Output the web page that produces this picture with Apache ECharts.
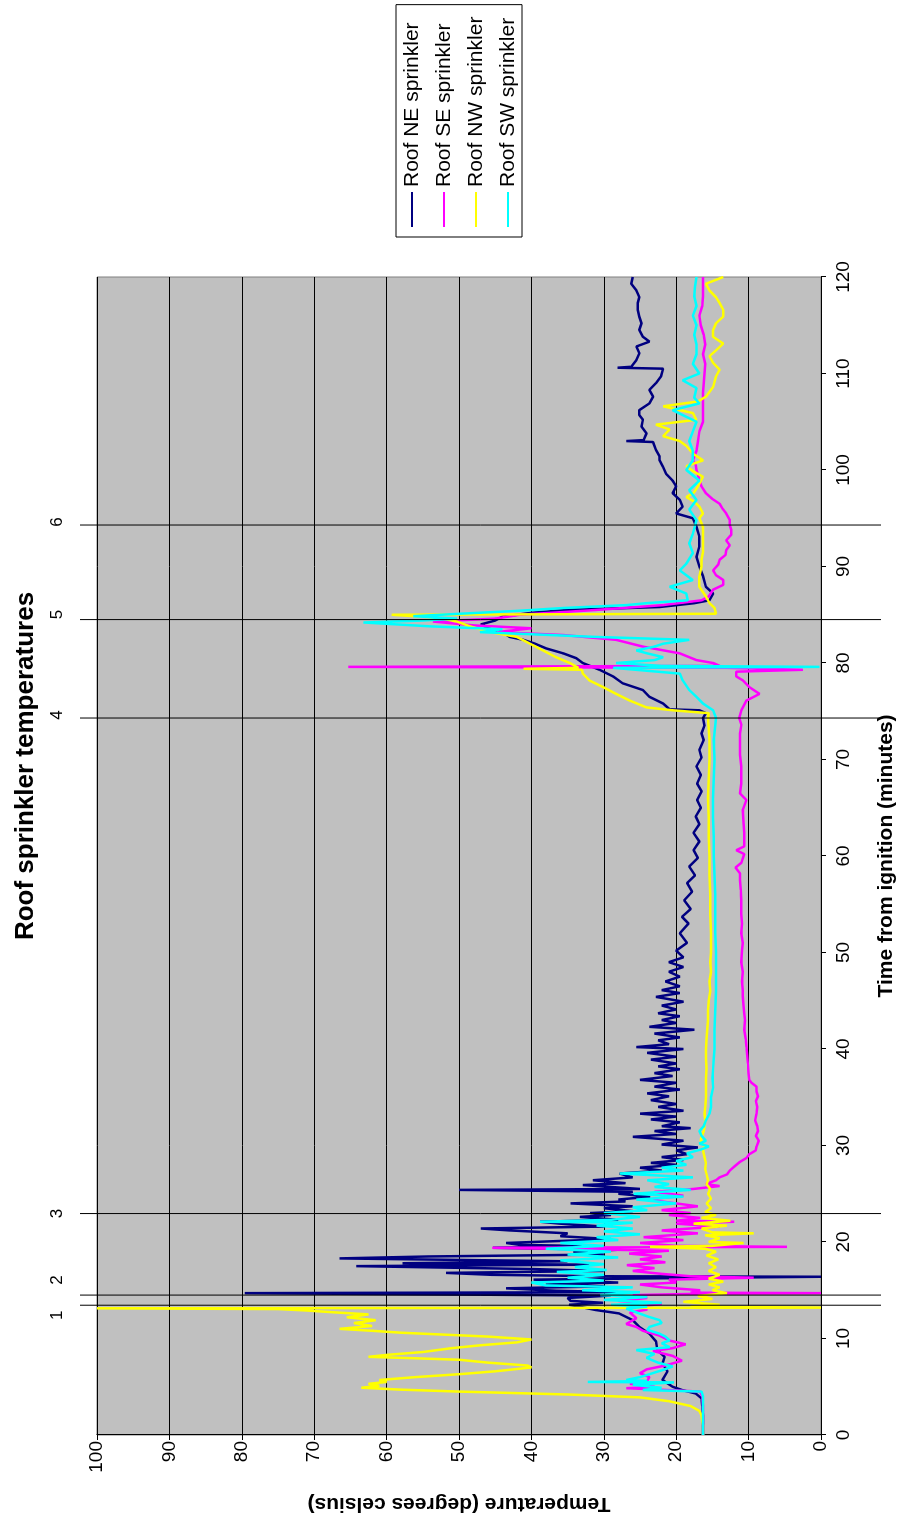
<!DOCTYPE html>
<html><head><meta charset="utf-8">
<script src="https://cdn.jsdelivr.net/npm/echarts@6/dist/echarts.min.js"></script>
<style>
html,body{margin:0;padding:0;width:902px;height:1526px;overflow:hidden;background:#fff;}
#chart{position:absolute;left:0;top:0;width:1526px;height:902px;transform-origin:0 0;transform:translate(0,1526px) rotate(-90deg);}
</style></head><body><div id="chart"></div>
<script>
const chartTitle = 'Roof sprinkler temperatures';
const xAxisName = 'Time from ignition (minutes)';
const yAxisName = 'Temperature (degrees celsius)';
const seriesNames = ['Roof NE sprinkler', 'Roof SE sprinkler', 'Roof NW sprinkler', 'Roof SW sprinkler'];
const timeRange = [0, 120, 10];
const tempRange = [0, 100, 10];
const eventTimes = [13.45, 14.5, 22.95, 74.3, 84.5, 94.3];
const eventLabels = ['1', '2', '3', '4', '5', '6'];

const roofNE = [[0,16.3],[1,16.3],[2,16.3],[3,16.4],[3.8,16.5],[4.3,17.3],[4.66,19.2],[5.0,20.5],[5.7,21.9],[6.6,21.2],[7.4,21.9],[8.1,21.6],[8.8,22.6],[9.7,22.8],[10.5,23.7],[11.2,25.1],[11.9,26.0],[12.6,27.9],[12.95,31.1],[13.3,33.4],[13.5,34.8],[13.7,30.1],[13.9,34.6],[14.2,35],[14.45,29],[14.7,79.6],[14.8,28],[14.95,36.5],[15.2,43.5],[15.4,30],[15.6,38],[15.8,28],[16.1,39.7],[16.3,15],[16.4,0],[16.45,30],[16.6,45.5],[16.8,51.8],[17.0,30],[17.2,40],[17.5,64.2],[17.65,32],[17.8,57.8],[18.0,35],[18.3,66.5],[18.5,54.3],[18.7,30],[19.0,34.2],[19.2,28],[19.4,45.3],[19.55,30],[19.7,41.6],[19.9,43.5],[20.1,43.4],[20.3,29],[20.6,36],[20.9,35],[21.2,43],[21.4,47],[21.6,30],[21.9,36],[22.1,38.8],[22.3,28],[22.6,33.3],[22.8,29],[23.0,31.9],[23.2,26],[23.5,30],[23.7,26],[24.0,34.6],[24.2,27],[24.4,28],[24.7,23.6],[25.0,28],[25.2,26],[25.4,50],[25.5,25],[25.9,32.9],[26.1,27],[26.4,31.5],[26.7,26],[27.1,27.8],[27.4,22],[27.7,25],[28.0,20],[28.2,23.5],[28.5,19],[28.8,22],[29.1,18.5],[29.5,20],[29.8,17],[30.1,22],[30.5,19],[30.9,26],[31.2,20],[31.5,23],[31.8,18],[32.0,22],[32.4,19.5],[32.7,23.5],[33.0,20],[33.3,25],[33.6,19],[34.0,22.5],[34.3,20],[34.7,23.5],[35.1,21],[35.4,24],[35.8,19.5],[36.1,23],[36.5,20],[36.8,25],[37.2,20.5],[37.5,23],[37.9,19.5],[38.2,22.5],[38.5,20],[38.9,23.5],[39.2,20],[39.6,24],[40.0,19],[40.2,25.5],[40.5,21],[40.9,22.5],[41.2,19.5],[41.6,23],[42.0,17.5],[42.3,23.7],[42.7,20],[43.0,22],[43.4,19.5],[43.7,22.5],[44.1,20],[44.5,22],[44.9,19],[45.4,22.8],[45.8,19.5],[46.1,22],[46.5,19.5],[47.0,21.5],[47.5,19.5],[48.0,21],[48.5,19],[49.0,21],[49.5,19],[50.2,20],[51,18.5],[52,19.5],[53,18.3],[53.7,19.2],[54.5,18],[55.4,18.9],[56.3,17.8],[57.2,18.5],[58,17.4],[58.9,18.2],[59.8,17],[60.6,17.6],[61.5,16.8],[62.4,17.6],[63.3,16.8],[64.1,17.3],[65,16.6],[65.8,17.1],[66.7,16.5],[67.5,17.1],[68.4,16.6],[69.3,17.2],[70.2,16.5],[71,16.8],[72,16.2],[72.7,16.5],[73.5,16.1],[74.3,16.3],[74.8,15.9],[75.1,16.8],[75.2,20.9],[75.8,21.8],[76.5,23.7],[77.2,24.6],[77.9,27.4],[78.6,28.7],[79.3,30.6],[80,32.9],[80.5,33.8],[81,35.6],[81.5,37.9],[82,39.5],[82.4,41.1],[82.7,43],[83.2,44],[83.6,46],[84,47],[84.4,45],[84.8,44],[85.2,40],[85.5,35],[85.8,22.3],[86.2,17.5],[86.5,15.4],[87.2,14.9],[87.9,15.9],[89,16.3],[90,16.8],[91,17.2],[92.1,16.8],[93.1,16.8],[94.1,17.2],[95,17.7],[95.5,20],[96.2,19.1],[96.9,19.5],[97.6,20.5],[98.3,20],[98.9,20.5],[99.6,21.4],[100.3,21.8],[101,22.3],[101.4,22.3],[102.1,22.8],[102.9,23.2],[103,26.9],[103.1,24.5],[103.8,24.1],[104.5,24.8],[105.2,24.6],[105.7,25.1],[106.2,25.1],[106.9,23.7],[107.6,23.2],[108.3,23.7],[109,22.8],[109.7,22.1],[110.5,21.8],[110.6,28.1],[110.7,26.2],[111.4,25.5],[112.1,25.1],[112.8,25.5],[113.3,23.7],[113.8,24.6],[114.5,25.1],[115.2,24.8],[115.9,25.1],[116.6,25.3],[117.3,25.3],[117.9,25.1],[118.6,25.5],[119.3,26.2],[120,26]];

const roofSE = [[0,16.3],[1,16.3],[2,16.3],[3,16.3],[4,16.4],[4.5,16.7],[4.7,22.3],[4.85,26.9],[5.0,23],[5.3,26.4],[5.6,24],[6.0,23.7],[6.4,25],[6.8,24.1],[7.2,21.5],[7.7,19.2],[8.2,20.5],[8.7,23.2],[9.0,20.5],[9.4,18.7],[9.8,21],[10.3,22.3],[10.8,24.6],[11.2,25.5],[11.5,26.9],[12.1,25.5],[12.7,26.4],[13.0,24],[13.3,25],[13.6,22],[13.9,28],[14.2,24],[14.5,26],[14.65,16],[14.7,0],[14.75,18],[15.0,16.7],[15.3,22],[15.6,25],[15.8,20],[16.1,21],[16.3,9.3],[16.45,18],[16.7,22],[17.0,26],[17.3,23],[17.6,26.8],[17.9,21.5],[18.2,25],[18.5,22],[18.8,26.5],[19.1,21],[19.4,45.4],[19.5,4.7],[19.6,20],[19.9,25],[20.2,19],[20.5,24.5],[20.9,17],[21.2,22],[21.6,14],[21.9,20],[22.1,12],[22.2,20],[22.5,16.7],[22.8,21],[23.0,18],[23.3,22],[23.7,17],[24.0,20],[24.4,24],[24.8,19],[25.2,23],[25.5,17.6],[25.8,14],[26.0,15.9],[26.4,14.5],[26.7,14],[27.0,13],[27.4,12.6],[27.8,12],[28.3,11.2],[28.7,10.3],[29.1,9.9],[29.5,9],[29.9,8.9],[30.5,8.6],[31.0,9.0],[31.5,8.7],[32.0,8.8],[32.6,9.1],[33.3,8.9],[34,8.8],[34.6,9.0],[35.1,8.7],[35.6,8.9],[36.1,8.9],[36.5,9.6],[36.8,9.9],[37.5,10.0],[38.5,10.1],[39.3,10.2],[40.2,10.3],[41,10.4],[42,10.6],[43,10.5],[43.7,10.6],[44.5,10.7],[45.5,10.8],[46.1,10.8],[47,10.9],[48,10.8],[49,11.0],[50.2,10.9],[51,10.8],[52,11],[53,10.9],[54,11],[55.4,11],[56.5,11.1],[57.5,11.2],[58.2,11.2],[58.8,11.8],[59.3,11],[60.2,10.6],[60.6,11.7],[61,10.6],[62.4,10.6],[63.5,10.7],[64.8,10.8],[65.8,10.3],[66.5,11.2],[67.5,11.0],[68.5,11.0],[69.3,11.0],[70.5,11.2],[71.5,11.2],[72.7,11.2],[73.6,11.0],[74.3,11.3],[75.1,11.0],[76.1,10.3],[76.8,8.5],[77.5,9.9],[78.2,10.8],[78.6,11.7],[79.1,11.7],[79.3,2.5],[79.5,13],[79.6,65.3],[79.7,14],[80.0,14.9],[80.3,17.2],[81.0,19.5],[81.7,24.6],[82.4,28.3],[82.9,35.6],[83.2,44.8],[83.6,40],[83.9,48],[84.3,53.6],[84.6,45],[85.0,41.6],[85.5,31],[86.0,21.8],[86.5,16.5],[86.9,15.5],[87.6,14.9],[88.1,13.5],[88.6,13.5],[89.1,14.5],[89.6,14.9],[90.2,14.2],[90.7,14],[91.2,13.2],[91.7,13.1],[92.2,12.6],[92.7,13.1],[93.3,12.4],[93.8,12.4],[94.3,12.6],[94.8,12.6],[95.5,13.1],[96,13.6],[96.5,14],[97,15],[97.6,15.9],[98.3,16.5],[98.9,16.8],[99.5,17.0],[100,17.2],[100.5,17.3],[101,17.7],[102,17.2],[103,17.0],[104,16.8],[105,16.3],[106,16.3],[107,16.3],[108,16.3],[109,16.2],[110,16.1],[111,16],[112,16.3],[113,16],[114,16.2],[115,16.6],[116,16.8],[117,16.4],[118,16.3],[119,16.3],[120,16.3]];

const roofNW = [[0,16.3],[1,16.3],[2,16.5],[2.5,16.8],[3.0,18],[3.5,21],[3.9,25],[4.2,35],[4.5,50],[4.7,58],[4.9,63.5],[5.1,61],[5.3,62.5],[5.5,60],[5.7,61],[6.0,56],[6.3,50],[6.6,45],[7.0,40],[7.2,40.5],[7.5,46],[7.8,50],[7.95,56],[8.1,62.5],[8.3,60],[8.6,55],[9.0,51],[9.3,47],[9.6,42],[9.9,40],[10.2,46],[10.4,52],[10.6,58],[10.8,62],[11.0,66.5],[11.3,62],[11.6,64.5],[11.9,61.5],[12.2,65.5],[12.5,62.5],[12.7,67],[12.9,71],[13.05,75],[13.13,100],[13.2,0],[13.3,18],[13.5,14],[13.8,19],[14.1,15],[14.4,17],[14.7,13],[15.0,15],[15.3,14],[15.6,15.5],[15.9,13.5],[16.2,15.5],[16.6,14],[17.0,15.5],[17.4,14.5],[17.8,15.5],[18.2,14.2],[18.6,15.8],[19.0,14.5],[19.3,16],[19.5,23.6],[19.6,15],[19.9,10.7],[20.0,15.5],[20.4,14],[20.7,16],[20.9,9.3],[21.0,15],[21.4,16.5],[21.7,13],[21.9,17.6],[22.2,12.5],[22.5,16.5],[22.8,14.5],[23.1,16],[23.5,15.2],[24,15.8],[24.5,15.2],[25,15.6],[25.5,15.3],[26,15.8],[26.4,15.6],[27,15.8],[27.6,16],[28.2,15.9],[28.8,16.1],[29.5,16.3],[29.9,16.1],[30.5,16.6],[30.9,16.5],[31.5,16.2],[32,16.1],[32.6,16.0],[33.3,16.1],[34,16.0],[35,15.9],[36,15.9],[37,15.9],[38,15.8],[39,15.9],[40,15.9],[41,15.8],[42,15.7],[43,15.6],[44,15.6],[45,15.5],[46,15.3],[47,15.4],[48,15.2],[49,15.3],[50,15.2],[52,15.2],[54,15.3],[56,15.3],[58,15.4],[60,15.4],[62,15.5],[64,15.5],[66,15.6],[68,15.5],[70,15.4],[72,15.4],[74.3,15.6],[74.8,15.5],[75.1,20.5],[75.4,24.1],[76.1,26.4],[76.8,28.3],[77.5,30.1],[78.2,32],[78.9,32.9],[79.3,33],[79.4,41.1],[79.5,33.5],[80,34.7],[80.6,36.6],[81.3,38.4],[82,40.2],[82.7,42],[83.2,45.7],[83.8,48.5],[84.3,50.3],[84.7,53],[85.0,59.3],[85.1,14.5],[85.3,14.5],[85.7,14.7],[86.2,15.4],[86.9,15.9],[87.9,16.8],[89,16.8],[90,16.5],[90.7,16.5],[91.5,16.3],[92.5,16.3],[93.5,16.3],[94.1,16.3],[95,16.8],[95.5,16.3],[96.2,16.8],[96.7,17.5],[97.2,18.6],[97.7,17.5],[98.3,17],[99.3,16.3],[99.8,17.5],[100.4,18.6],[101,16.3],[101.7,17.7],[102.5,18.6],[103,19.5],[103.5,21.8],[104.2,20.9],[104.7,22.8],[105.2,17.2],[105.9,17.7],[106.6,21.8],[107.1,17],[107.6,15.9],[108.6,14.9],[109.7,14.5],[110.4,14],[111.1,14.9],[111.8,15.4],[112.4,14.5],[113.1,13.5],[113.8,14.9],[114.5,14.9],[115.2,14.5],[115.9,13.5],[116.6,13.5],[117.3,14],[117.9,14.5],[118.6,15.4],[119.3,15.9],[120,13.5]];

const roofSW = [[0,16.3],[1,16.3],[2,16.3],[3,16.3],[4.0,16.3],[4.5,16.5],[4.66,24.6],[4.9,22],[5.2,26],[5.45,20.3],[5.5,32.2],[5.6,24],[5.7,26.9],[6.0,25],[6.3,23.7],[6.7,22],[7.1,20.5],[7.5,22.5],[8.0,24.1],[8.4,23],[8.8,25.5],[9.1,20.9],[9.5,22],[9.8,20.9],[10.2,21.5],[10.5,22.3],[10.9,24],[11.2,23.7],[11.6,22],[11.9,22.3],[12.3,24],[12.6,25.1],[13.1,26.9],[13.3,24],[13.5,29],[13.7,22],[14.0,30],[14.3,24],[14.5,30.5],[14.8,25],[15.0,33],[15.3,26],[15.5,38],[15.8,40],[16.0,30],[16.3,35],[16.6,30],[16.9,36.5],[17.1,29.6],[17.4,34],[17.7,30],[18.1,36],[18.4,28],[18.7,35],[19.0,29],[19.3,38],[19.6,30],[19.9,36],[20.2,28],[20.5,31],[20.8,25],[21.1,30],[21.4,26],[21.7,31],[22.0,26],[22.1,38.8],[22.3,29],[22.6,25],[23.0,30],[23.3,24],[23.6,26],[24.0,20],[24.4,25.5],[24.7,19],[25.0,25.9],[25.4,18],[25.7,23],[26.0,21],[26.4,24],[26.7,17.7],[27.1,27.8],[27.4,19],[27.7,22],[28.0,18.6],[28.4,20],[28.8,17.7],[29.2,18.5],[29.6,16.5],[29.9,15.5],[30.2,16.8],[30.5,15.9],[31.0,16.5],[31.5,16.8],[32.0,16.2],[32.6,15.9],[33.3,15.4],[34,15.2],[35,15.2],[36,14.9],[37,15.0],[38,14.9],[39,14.8],[40,14.7],[42,14.7],[44,14.6],[46,14.5],[48,14.5],[50,14.5],[52,14.6],[54,14.6],[56,14.6],[58,14.7],[60,14.8],[62,14.8],[64,14.9],[66,14.9],[68,14.8],[70,14.7],[72,14.8],[74.3,14.5],[75.1,14.9],[75.8,16.3],[76.5,17.2],[77.2,18.2],[78.2,19.1],[78.9,19.5],[79.5,28.7],[79.6,0.2],[79.7,22],[80.0,28.3],[80.3,23],[80.6,21.8],[81.0,24],[81.3,25.5],[81.7,23],[82.0,21.8],[82.4,18.2],[82.7,31],[83.2,47.1],[83.5,44],[83.8,54],[84.2,63.2],[84.4,55],[84.6,50.3],[84.85,56.3],[85.1,50],[85.4,42],[85.7,35.6],[86.0,26.9],[86.2,24.1],[86.5,18.4],[87.2,18.6],[87.9,20.9],[88.6,17.7],[89.6,19.5],[90.3,18.6],[91.4,17.7],[92.4,18.2],[93.4,17.7],[94.8,17.2],[95.9,18.2],[96.9,17.2],[97.9,18.2],[98.9,16.8],[100,18.6],[101,17.7],[102,17.7],[103,18.2],[104,17.7],[105,17.2],[106.2,20.5],[106.9,16.8],[107.5,17.5],[108.5,17.2],[109.3,19.1],[110,16.8],[111,17.7],[112,17.2],[113,17.2],[114,17.5],[115,17.2],[116,17.7],[117,17.2],[118,17.5],[119,17.4],[120,17.2]];

const seriesData = [roofNE, roofSE, roofNW, roofSW];
const seriesColors = ['#000080', '#ff00ff', '#ffff00', '#00ffff'];
const labelShift = [-10, 15, 0, 3, 5, 3];
const FONT = '"Liberation Sans", Arial, Helvetica, sans-serif';

const chart = echarts.init(document.getElementById('chart'), null, {renderer: 'canvas'});

const lineSeries = seriesNames.map((name, i) => ({
  name: name,
  type: 'line',
  data: seriesData[i],
  showSymbol: false,
  symbol: 'none',
  sampling: null,
  clip: true,
  lineStyle: {color: seriesColors[i], width: 2.5},
  itemStyle: {color: seriesColors[i]},
  z: 2 + i * 0.01,
  animation: false
}));

const eventSeries = {
  name: 'events',
  type: 'custom',
  data: eventTimes.map(t => [t, 0]),
  clip: false,
  silent: true,
  z: 5,
  animation: false,
  renderItem: function (params, api) {
    const x = api.coord([api.value(0), 0])[0];
    const cs = params.coordSys;
    const i = params.dataIndex;
    return {
      type: 'group',
      children: [
        {type: 'line', shape: {x1: x, y1: cs.y - 17, x2: x, y2: cs.y + cs.height + 60},
         style: {stroke: '#000', lineWidth: 1}},
        {type: 'text', style: {text: eventLabels[i], x: x + labelShift[i], y: cs.y - 40,
          align: 'center', verticalAlign: 'middle', font: '17px ' + FONT, fill: '#000'}}
      ]
    };
  }
};

chart.setOption({
  backgroundColor: '#ffffff',
  animation: false,
  title: {
    text: chartTitle,
    left: 755,
    textAlign: 'center',
    top: 8,
    textStyle: {fontFamily: FONT, fontSize: 26, fontWeight: 'bold', color: '#000'}
  },
  legend: {
    data: seriesNames,
    orient: 'vertical',
    left: 1289,
    top: 396,
    icon: 'rect',
    itemWidth: 35,
    itemHeight: 2,
    itemGap: 10,
    padding: [5, 12, 3, 10],
    backgroundColor: '#ffffff',
    borderColor: '#000',
    borderWidth: 1,
    selectedMode: false,
    textStyle: {fontFamily: FONT, fontSize: 21, color: '#000', lineHeight: 22}
  },
  grid: {
    left: 91, top: 97, width: 1158, height: 725,
    show: true, backgroundColor: '#c0c0c0', borderColor: '#808080', borderWidth: 1,
    containLabel: false
  },
  xAxis: {
    type: 'value',
    min: timeRange[0], max: timeRange[1], interval: timeRange[2],
    name: xAxisName,
    nameLocation: 'middle',
    nameGap: 55,
    nameTextStyle: {fontFamily: FONT, fontSize: 21, fontWeight: 'bold', color: '#000'},
    axisLine: {show: true, onZero: false, lineStyle: {color: '#000', width: 1}},
    axisTick: {show: true, length: 5, lineStyle: {color: '#000'}},
    axisLabel: {fontFamily: FONT, fontSize: 19, color: '#000', margin: 13},
    splitLine: {show: false}
  },
  yAxis: {
    type: 'value',
    min: tempRange[0], max: tempRange[1], interval: tempRange[2],
    name: yAxisName,
    nameLocation: 'middle',
    nameGap: 58,
    nameTextStyle: {fontFamily: FONT, fontSize: 21, fontWeight: 'bold', color: '#000'},
    axisLine: {show: true, onZero: false, lineStyle: {color: '#000', width: 1}},
    axisTick: {show: true, length: 5, lineStyle: {color: '#000'}},
    axisLabel: {fontFamily: FONT, fontSize: 19, color: '#000', margin: 6},
    splitLine: {show: true, lineStyle: {color: '#000', width: 1}}
  },
  series: lineSeries.concat([eventSeries])
});
</script>
</body></html>
